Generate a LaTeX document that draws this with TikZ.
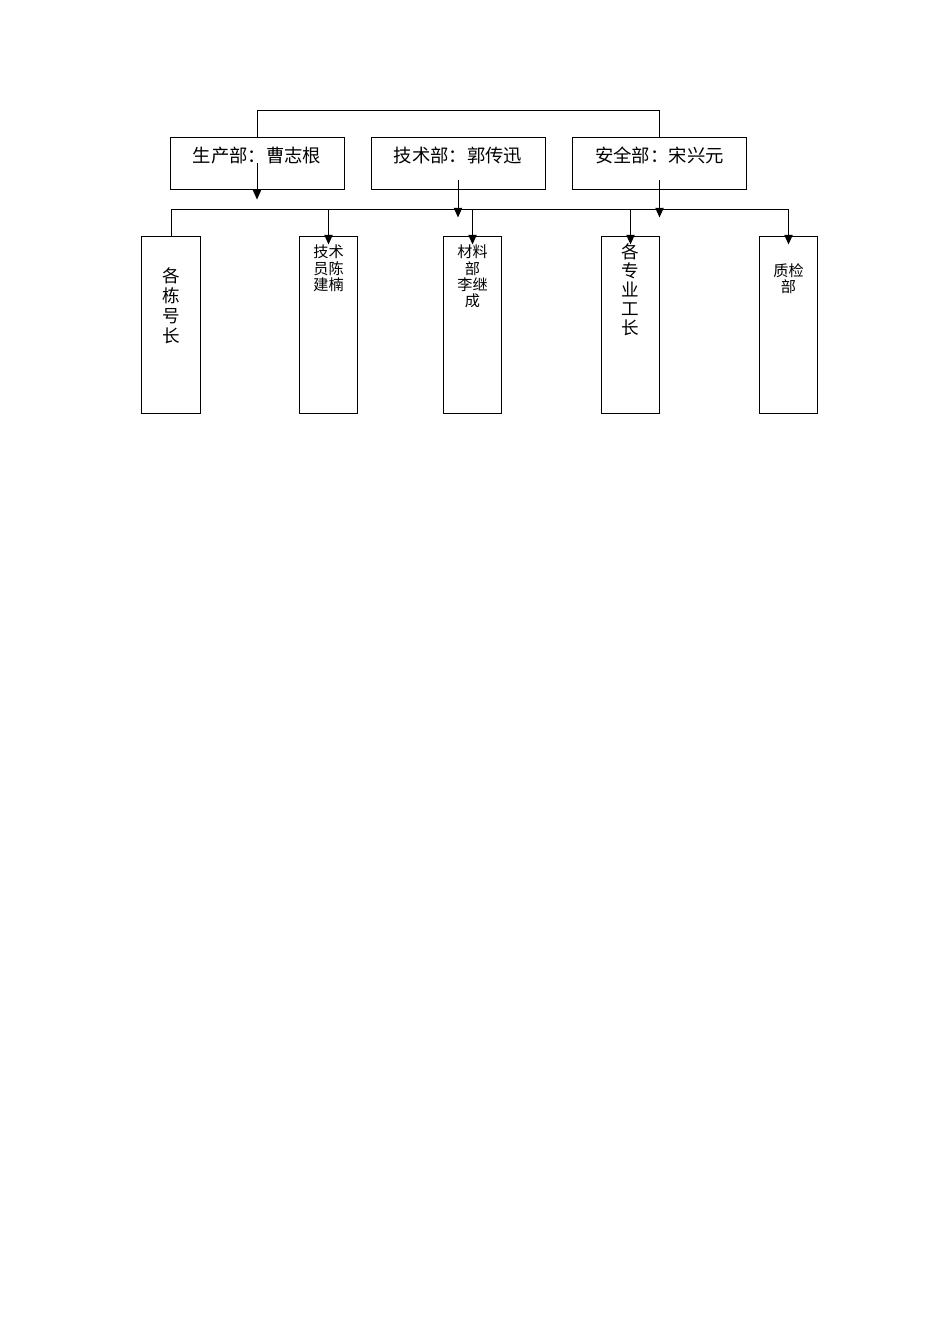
\documentclass[tikz,border=0pt]{standalone}
\usepackage{fontspec}
\setmainfont{Noto Sans CJK SC}
\usetikzlibrary{arrows.meta}

\tikzset{
    dept/.style={draw,line width=0.6pt,minimum width=109pt,inner sep=0pt,
        text height=15.2pt,text depth=16.8pt,font=\fontsize{11.5pt}{13pt}\selectfont},
    col/.style={draw,line width=0.6pt,inner xsep=0pt,inner ysep=0pt,text width=36.4pt,
        align=center,minimum width=36.4pt},
    big/.style={font=\fontsize{11pt}{12.5pt}\selectfont},
    small/.style={font=\fontsize{9.5pt}{10.3pt}\selectfont},
    arr/.style={line width=0.6pt,-{Triangle[length=6pt,width=5.2pt]}}
}

\begin{document}
\begin{tikzpicture}[x=0.6265pt,y=-0.6265pt]
            \useasboundingbox (0,0) rectangle (950,1344);

            \node[dept] (prod) at (257,163.5) {生产部：曹志根};
            \node[dept] (tech) at (458,163.5) {技术部：郭传迅};
            \node[dept] (safe) at (659.5,163.5) {安全部：宋兴元};
            \draw[line width=0.6pt] (prod.north) -- ++(0,-27) -| (safe.north);

            \node[col,big,text height=28.4pt,text depth=81.9pt] (dong) at (171,325) {各\\栋\\号\\长};
            \node[col,small,text height=12.9pt,text depth=97.4pt] (jishu) at (328.5,325) {技术\\员陈\\建楠};
            \node[col,small,text height=12.9pt,text depth=97.4pt] (cailiao) at (472.5,325) {材料\\部\\李继\\成};
            \node[col,big,text height=13.6pt,text depth=96.7pt,font=\fontsize{11pt}{11.9pt}\selectfont] (gongzhang) at (630.5,325) {各\\专\\业\\工\\长};
            \node[col,small,text height=24.8pt,text depth=85.5pt] (zhijian) at (788.5,325) {质检\\部};

            \coordinate (bar) at (171,209);
            \draw[line width=0.6pt] (dong.north) |- (zhijian.north |- bar);
            \foreach \n in {jishu,cailiao,gongzhang,zhijian} {
                \draw[arr] (\n.north |- bar) -- ([yshift=-5pt]\n.north);
            }

            \draw[arr] (prod.center) -- ([yshift=-6.3pt]prod.south);
            \draw[arr] ([yshift=-10.3pt]tech.center) -- ([yshift=-17.5pt]tech.south);
            \draw[arr] ([yshift=-10.3pt]safe.center) -- ([yshift=-17.5pt]safe.south);
        \end{tikzpicture}
\end{document}
